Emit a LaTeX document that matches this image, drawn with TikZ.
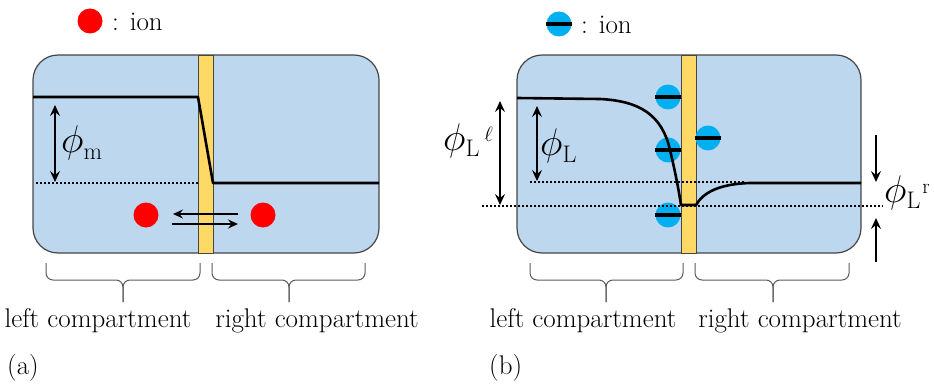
\documentclass[tikz,border=0pt]{standalone}
\usepackage{graphicx}
\usetikzlibrary{arrows.meta}

\definecolor{cellblue}{RGB}{189,215,238}
\definecolor{membyellow}{RGB}{255,217,102}
\definecolor{ioncyan}{RGB}{0,176,240}
\definecolor{rimgray}{RGB}{70,70,70}
\definecolor{bracegray}{RGB}{90,90,90}

% phi label: subscript #1, superscript #2
\newcommand{\potlab}[2]{{\fontsize{24}{24}\selectfont\scalebox{1.55}{$\phi$}}\raisebox{-6pt}{\fontsize{24}{24}\selectfont #1}\raisebox{9pt}{\fontsize{21}{21}\selectfont #2}}
% curly brace under a compartment: left end, right end, tip
\newcommand{\compbrace}[3]{%
  \draw[brc] (#1,263) -- (#1,280) -- (#3,280) -- (#3,302);
  \draw[brc] (#2,263) -- (#2,280) -- (#3,280) -- (#3,302);}

\begin{document}
\begin{tikzpicture}[x=1pt,y=-1pt,
  cell/.style={draw=rimgray,line width=1.2pt,fill=cellblue,rounded corners=25pt},
  memb/.style={draw=rimgray,line width=0.8pt,fill=membyellow},
  pot/.style={line width=2.6pt,line join=round},
  guide/.style={line width=1.8pt,dash pattern=on 1.8pt off 2.2pt},
  dimarr/.style={line width=1.2pt,{Stealth[length=11pt,width=10pt,inset=4pt]}-{Stealth[length=11pt,width=10pt,inset=4pt]}},
  onearr/.style={line width=1.2pt,-{Stealth[length=11pt,width=10pt,inset=4pt]}},
  hoparr/.style={line width=1.1pt,-{Stealth[length=10pt,width=9pt,inset=3.5pt]}},
  ionred/.style={circle,fill=red,minimum size=25pt,inner sep=0pt},
  ionblue/.style={circle,fill=ioncyan,minimum size=25pt,inner sep=0pt},
  ionbar/.style={line width=3.2pt},
  brc/.style={draw=bracegray,line width=1pt,rounded corners=7pt},
  txt/.style={font=\fontsize{27}{30}\selectfont,inner sep=0pt,anchor=base},
  phl/.style={inner sep=0pt,anchor=base west},
]
\useasboundingbox (0,0) rectangle (934,385);

% ===== (a) =====
% Legend
\node[ionred] (legA) at (90,21) {};
\node[txt,anchor=west] (legAtxt) at (112,22) {: ion};

% Cell and membrane
\draw[cell] (33,55) rectangle (379,253);
\draw[memb] (198,55) rectangle (213,253);

% Potential
\draw[guide] (36,183) -- (198,183);
\draw[pot] (33,97) -- (198,97) -- (213,183) -- (379,183);

% phi_m
\coordinate (mtop) at (55,105);
\coordinate (mbot) at (55,182);
\draw[dimarr] (mtop) -- (mbot);
\node[phl] (phim) at (61,153) {\potlab{m}{}};

% Ions crossing the membrane
\node[ionred] (ionL) at (146,215) {};
\node[ionred] (ionR) at (263,215) {};
\coordinate (hopA1) at (238,214);
\coordinate (hopA2) at (173,214);
\coordinate (hopB1) at (172,224);
\coordinate (hopB2) at (238,224);
\draw[hoparr] (hopA1) -- (hopA2);
\draw[hoparr] (hopB1) -- (hopB2);

% Compartments
\compbrace{46}{200}{123}
\compbrace{212}{365}{289}
\node[txt] (leftA) at (98,327) {left compartment};
\node[txt] (rightA) at (317,327) {right compartment};
\node[txt,anchor=base west] (capA) at (7,374) {(a)};

% ===== (b) =====
% Legend
\node[ionblue] (legB) at (559,24) {};
\draw[ionbar] (legB.west) -- (legB.east);
\node[txt,anchor=west] (legBtxt) at (581,25) {: ion};

% Cell and membrane
\draw[cell] (517,55) rectangle (861,253);
\draw[memb] (681,55) rectangle (696,253);

% Bound ions
\foreach \nm/\px/\py in {b1/668/97,b2/668/150,b3/708/138,b4/668/215}{
  \node[ionblue] (\nm) at (\px,\py) {};
  \draw[ionbar] (\nm.west) -- (\nm.east);
}

% Potential
\draw[guide] (530,182) -- (745,182);
\draw[guide] (482,206) -- (883,206);
\draw[pot] (517,98) -- (600,99)
  .. controls (640,101) and (662,115) .. (670,150)
  .. controls (676,175) and (679,192) .. (681,205)
  -- (696,205)
  .. controls (703,193) and (718,184) .. (750,183)
  -- (861,183);

% phi_L^l and phi_L
\coordinate (lltop) at (500,101);
\coordinate (llbot) at (500,205);
\draw[dimarr] (lltop) -- (llbot);
\node[phl] (phill) at (443,150) {\potlab{L}{\hspace{5pt}$\ell$}};
\coordinate (ltop) at (537,106);
\coordinate (lbot) at (537,181);
\draw[dimarr] (ltop) -- (lbot);
\node[phl] (phil) at (540,156) {\potlab{L}{}};

% phi_L^r
\coordinate (rtop) at (876,135);
\coordinate (rmid1) at (876,182);
\coordinate (rmid2) at (876,218);
\coordinate (rbot) at (876,262);
\draw[onearr] (rtop) -- (rmid1);
\draw[onearr] (rbot) -- (rmid2);
\node[phl] (phir) at (884,202) {\potlab{L}{\hspace{2pt}r}};

% Compartments
\compbrace{530}{683}{606}
\compbrace{695}{849}{773}
\node[txt] (leftB) at (583,327) {left compartment};
\node[txt] (rightB) at (800,327) {right compartment};
\node[txt,anchor=base west] (capB) at (489,374) {(b)};
\end{tikzpicture}
\end{document}
